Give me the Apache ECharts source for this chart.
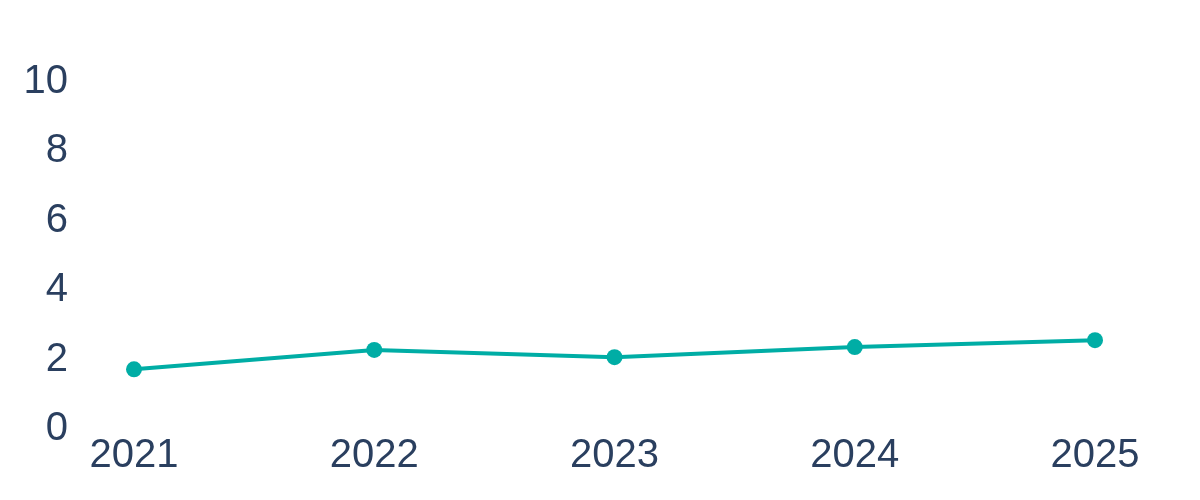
<!DOCTYPE html>
<html><head><meta charset="utf-8">
<script src="https://cdn.jsdelivr.net/npm/echarts@6/dist/echarts.min.js"></script>
<style>html,body{margin:0;padding:0;background:#fff}#c{width:1200px;height:500px}</style>
</head><body><div id="c"></div>
<script>
const categories = ['2021','2022','2023','2024','2025'];
const values = [1.72, 2.28, 2.07, 2.36, 2.56];
const yTicks = {min: 0, max: 10, interval: 2};

const chart = echarts.init(document.getElementById('c'), null, {renderer: 'canvas'});
chart.setOption({
  animation: false,
  backgroundColor: '#ffffff',
  grid: {left: 134, right: 105, top: 82, bottom: 71, containLabel: false},
  xAxis: {
    type: 'category', data: categories, boundaryGap: false,
    axisLine: {show: false}, axisTick: {show: false}, splitLine: {show: false},
    axisLabel: {color: '#2a3f5f', fontFamily: 'Liberation Sans', fontSize: 40, margin: 7}
  },
  yAxis: {
    type: 'value', min: yTicks.min, max: yTicks.max, interval: yTicks.interval,
    axisLine: {show: false}, axisTick: {show: false}, splitLine: {show: false},
    axisLabel: {color: '#2a3f5f', fontFamily: 'Liberation Sans', fontSize: 40, margin: 66}
  },
  series: [{
    type: 'line', data: values,
    symbol: 'circle', symbolSize: 16,
    lineStyle: {color: '#00ada5', width: 4},
    itemStyle: {color: '#00ada5'}
  }]
});
</script></body></html>
